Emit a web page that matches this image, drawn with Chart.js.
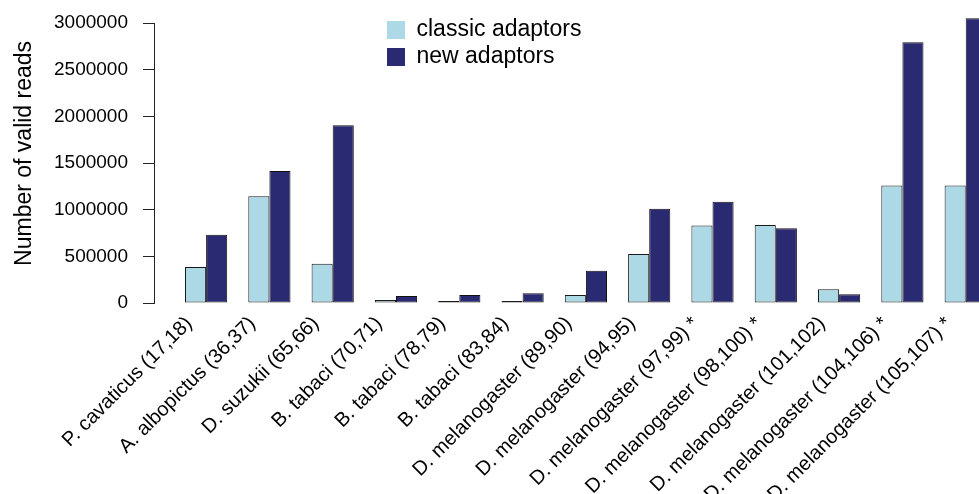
<!DOCTYPE html>
<html>
<head>
<meta charset="utf-8">
<title>Number of valid reads</title>
<script src="https://cdn.jsdelivr.net/npm/chart.js@4/dist/chart.umd.min.js"></script>
<style>
    html, body { margin: 0; padding: 0; background: #fff; overflow: hidden; }
    #box { width: 979px; height: 494px; }
</style>
</head>
<body>
<div id="box"><canvas id="grafico"></canvas></div>
<script>
// species / primer pairs (x axis)
var especies = [
    'P. cavaticus (17,18)',
    'A. albopictus (36,37)',
    'D. suzukii (65,66)',
    'B. tabaci (70,71)',
    'B. tabaci (78,79)',
    'B. tabaci (83,84)',
    'D. melanogaster (89,90)',
    'D. melanogaster (94,95)',
    'D. melanogaster (97,99) *',
    'D. melanogaster (98,100) *',
    'D. melanogaster (101,102)',
    'D. melanogaster (104,106) *',
    'D. melanogaster (105,107) *'
]

// valid reads per library
var classicAdaptors = [385000, 1145000, 420000, 32000, 21000, 21000, 86000, 525000, 830000, 835000, 147000, 1260000, 1260000]
var newAdaptors = [730000, 1415000, 1905000, 75000, 86000, 104000, 345000, 1010000, 1085000, 800000, 93000, 2795000, 3050000]

// y axis ticks
var yTicks = [0, 500000, 1000000, 1500000, 2000000, 2500000, 3000000]

/**
* @description: moves the legend (drawn in the chart area) to the top middle
*/
var legendaMeio = {
    id: 'legendaMeio',
    afterLayout: function(chart){
        if(!chart.legend) return
        chart.legend.left += 229
        chart.legend.right += 229
        chart.legend.top += 14.5
        chart.legend.bottom += 14.5
    }
}

function grafico(){
    try{
        var familia = '"Liberation Sans", Arial, Helvetica, sans-serif'

        Chart.defaults.font.family = familia
        Chart.defaults.color = '#000'

        //points as {x, y} so the x axis can be linear
        var pontos = function(arr){
            return arr.map(function(v, i){ return {x: i, y: v} })
        }

        new Chart(
            document.getElementById('grafico').getContext('2d'),
            {
                type: 'bar',
                data: {
                    datasets: [
                        {
                            label: 'classic adaptors',
                            data: pontos(classicAdaptors),
                            backgroundColor: '#ADD8E6',
                            borderColor: '#1a1a1a',
                            borderWidth: 1,
                            borderSkipped: false,
                            clip: {left: 0, top: 10, right: 0, bottom: 0}
                        },
                        {
                            label: 'new adaptors',
                            data: pontos(newAdaptors),
                            backgroundColor: '#2A2A72',
                            borderColor: '#111',
                            borderWidth: 1,
                            borderSkipped: false,
                            clip: {left: 0, top: 10, right: 0, bottom: 0}
                        }
                    ]
                },
                options: {
                    responsive: true,
                    maintainAspectRatio: false,
                    animation: false,
                    categoryPercentage: 2 / 3,
                    barPercentage: 1,
                    layout: {padding: {top: 23, right: 0, bottom: 0, left: 0}},
                    plugins: {
                        tooltip: {enabled: false},
                        legend: {
                            position: 'chartArea',
                            align: 'start',
                            fullSize: false,
                            labels: {
                                font: {size: 23},
                                color: '#000',
                                boxWidth: 18,
                                boxHeight: 18,
                                padding: 4,
                                generateLabels: function(chart){
                                    var itens = Chart.defaults.plugins.legend.labels.generateLabels(chart)
                                    itens.forEach(function(it){
                                        it.lineWidth = 0
                                        it.strokeStyle = 'rgba(0,0,0,0)'
                                    })
                                    return itens
                                }
                            }
                        }
                    },
                    scales: {
                        x: {
                            type: 'linear',
                            offset: false,
                            min: -0.823,
                            max: 12.21,
                            grid: {display: false, offset: false},
                            border: {display: false},
                            afterBuildTicks: function(s){
                                s.ticks = especies.map(function(e, i){ return {value: i} })
                            },
                            afterFit: function(s){
                                s.height = 191
                                s.paddingLeft = 0
                                s.paddingRight = 0
                            },
                            ticks: {
                                autoSkip: false,
                                minRotation: 45,
                                maxRotation: 45,
                                padding: 1,
                                labelOffset: -17,
                                font: {size: 20},
                                color: '#000',
                                callback: function(v){ return especies[v] }
                            }
                        },
                        y: {
                            min: 0,
                            max: 3000000,
                            afterBuildTicks: function(s){
                                s.ticks = yTicks.map(function(v){ return {value: v} })
                            },
                            afterFit: function(s){
                                s.width = 154
                                s.paddingTop = 0
                                s.paddingBottom = 0
                            },
                            grid: {
                                drawOnChartArea: false,
                                drawTicks: true,
                                tickLength: 11,
                                color: '#222'
                            },
                            border: {display: true, color: '#222', width: 1},
                            ticks: {
                                padding: 15,
                                font: {size: 19},
                                color: '#000',
                                callback: function(v){ return String(v) }
                            },
                            title: {
                                display: true,
                                //leading spaces lift the label a little, like the original
                                text: '   Number of valid reads',
                                font: {size: 23},
                                color: '#000',
                                padding: {top: 11, bottom: 0}
                            }
                        }
                    }
                },
                plugins: [legendaMeio]
            }
        )
    }catch(e){console.log(e)}
}

grafico()
</script>
</body>
</html>
